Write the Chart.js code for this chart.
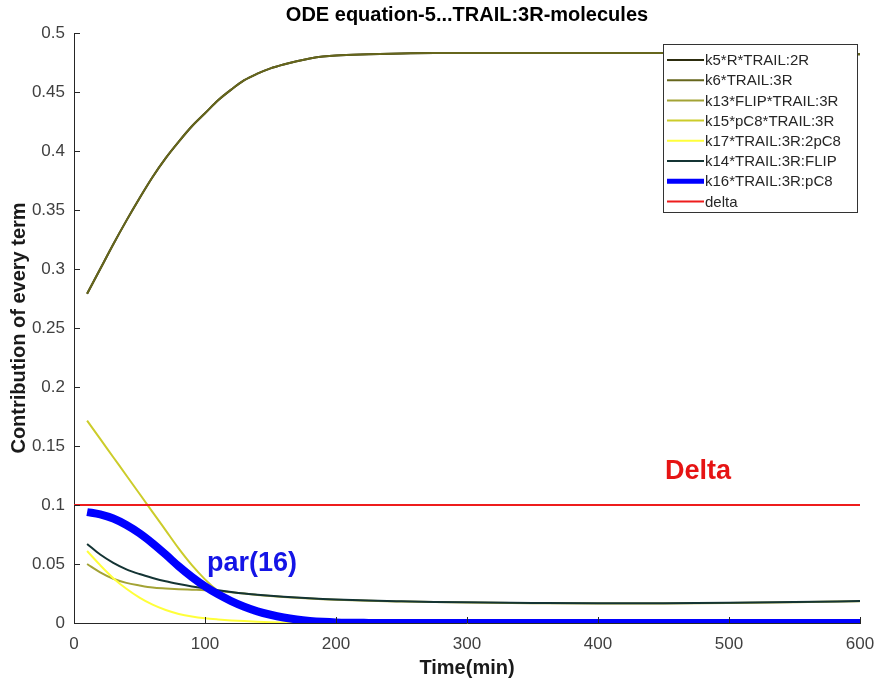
<!DOCTYPE html>
<html><head><meta charset="utf-8">
<script src="https://cdn.jsdelivr.net/npm/chart.js@4"></script>
<style>html,body{margin:0;padding:0;background:#fff}canvas{display:block}</style>
</head><body>
<canvas id="c" width="878" height="684"></canvas>
<script>
// ---- data ----
const timeMin = [10,20,30,40,50,60,70,80,90,100,110,120,130,140,150,160,170,180,190,200,225,250,275,300,350,400,450,500,550,600];
const k5Values = [0.279,0.300,0.321,0.341,0.360,0.378,0.394,0.408,0.421,0.432,0.443,0.452,0.460,0.4655,0.470,0.4733,0.476,0.4783,0.480,0.481,0.482,0.4827,0.483,0.483,0.483,0.483,0.483,0.483,0.483,0.482];
const k6Values = [0.279,0.300,0.321,0.341,0.360,0.378,0.394,0.408,0.421,0.432,0.443,0.452,0.460,0.4655,0.470,0.4733,0.476,0.4783,0.480,0.481,0.482,0.4827,0.483,0.483,0.483,0.483,0.483,0.483,0.483,0.482];
const k13Values = [0.050,0.043,0.0375,0.034,0.0318,0.030,0.0292,0.0286,0.0282,0.0278,0.0271,0.0261,0.0249,0.0238,0.0229,0.0221,0.0214,0.0208,0.0202,0.0197,0.0188,0.0182,0.0177,0.0173,0.0168,0.0165,0.0166,0.017,0.0176,0.0184];
const k15Values = [0.1715,0.156,0.1405,0.125,0.1095,0.094,0.0785,0.063,0.049,0.037,0.027,0.019,0.0125,0.008,0.005,0.003,0.0017,0.0009,0.0004,0.0001,0,0,0,0,0,0,0,0,0,0];
const k17Values = [0.061,0.049,0.038,0.029,0.0215,0.0155,0.011,0.0077,0.0055,0.004,0.003,0.0022,0.0016,0.0011,0.0007,0.0004,0.0002,0.0001,0,0,0,0,0,0,0,0,0,0,0,0];
const k14Values = [0.067,0.058,0.051,0.0455,0.0415,0.0382,0.0353,0.033,0.031,0.0294,0.0278,0.0263,0.025,0.024,0.0231,0.0223,0.0216,0.021,0.0204,0.0199,0.019,0.0184,0.0179,0.0175,0.017,0.0167,0.0168,0.0172,0.0178,0.0186];
const k16Values = [0.094,0.092,0.0885,0.083,0.076,0.0675,0.058,0.048,0.039,0.031,0.0243,0.0186,0.0138,0.0099,0.007,0.0047,0.003,0.0018,0.001,0.0005,0.0001,0,0,0,0,0,0,0,0,0];
const deltaTime = [0,600];
const deltaValues = [0.1,0.1];
const seriesLabels = ['k5*R*TRAIL:2R','k6*TRAIL:3R','k13*FLIP*TRAIL:3R','k15*pC8*TRAIL:3R','k17*TRAIL:3R:2pC8','k14*TRAIL:3R:FLIP','k16*TRAIL:3R:pC8','delta'];
const xTickLabels = ['0','100','200','300','400','500','600'];
const yTickLabels = ['0','0.05','0.1','0.15','0.2','0.25','0.3','0.35','0.4','0.45','0.5'];

const toXY = (xs, ys) => xs.map((x, i) => ({x: x, y: ys[i]}));
const colors = ['#2c2c0e','#66661c','#a3a335','#cccc2a','#ffff3a','#143434','#0000ff','#ee1c1c'];
const widths = [2,2,2,2,2,2,8,2];
const legendWidths = [2,2,2,2,2,2,5,2];
const seriesValues = [k5Values,k6Values,k13Values,k15Values,k17Values,k14Values,k16Values];

const datasets = seriesValues.map((v, i) => ({
  label: seriesLabels[i], data: toXY(timeMin, v),
  borderColor: colors[i], backgroundColor: colors[i], borderWidth: widths[i],
  pointRadius: 0, cubicInterpolationMode: 'monotone', fill: false, order: 20 - i
}));
datasets.push({label: seriesLabels[7], data: toXY(deltaTime, deltaValues), borderColor: colors[7],
  backgroundColor: colors[7], borderWidth: 2, pointRadius: 0, fill: false, order: 1});

const FONT = '"Liberation Sans", Arial, sans-serif';

const decor = {
  id: 'decor',
  afterDatasetsDraw(chart) {
    const ctx = chart.ctx, a = chart.chartArea, xs = chart.scales.x, ys = chart.scales.y;
    ctx.save();
    ctx.strokeStyle = '#262626'; ctx.lineWidth = 1;
    ctx.beginPath();
    xs.ticks.forEach(t => { const p = Math.round(xs.getPixelForValue(t.value)) + 0.5; ctx.moveTo(p, a.bottom); ctx.lineTo(p, a.bottom - 6); });
    ys.ticks.forEach(t => { const p = Math.round(ys.getPixelForValue(t.value)) + 0.5; ctx.moveTo(a.left, p); ctx.lineTo(a.left + 6, p); });
    ctx.stroke();
    ctx.restore();
  },
  afterDraw(chart) {
    const ctx = chart.ctx;
    ctx.save();
    // title
    ctx.fillStyle = '#000'; ctx.textAlign = 'center'; ctx.textBaseline = 'middle';
    ctx.font = 'bold 20px ' + FONT;
    ctx.fillText('ODE equation-5...TRAIL:3R-molecules', 467, 15);
    // axis titles
    ctx.fillStyle = '#1a1a1a';
    ctx.font = 'bold 20px ' + FONT;
    ctx.fillText('Time(min)', 467, 668);
    ctx.save(); ctx.translate(19, 328); ctx.rotate(-Math.PI / 2);
    ctx.fillText('Contribution of every term', 0, 0); ctx.restore();
    // annotations
    ctx.textAlign = 'left';
    ctx.font = 'bold 27px ' + FONT;
    ctx.fillStyle = '#e61414'; ctx.fillText('Delta', 665, 472);
    ctx.fillStyle = '#1414e6'; ctx.fillText('par(16)', 207, 564);
    // legend
    const lx = 663.5, ly = 44.5, lw = 194, lh = 168;
    ctx.fillStyle = '#fff'; ctx.fillRect(lx, ly, lw, lh);
    ctx.strokeStyle = '#333'; ctx.lineWidth = 1; ctx.strokeRect(lx, ly, lw, lh);
    ctx.font = '15px ' + FONT; ctx.textBaseline = 'middle';
    seriesLabels.forEach((lab, i) => {
      const y = 60 + i * 20.2;
      ctx.strokeStyle = colors[i]; ctx.lineWidth = legendWidths[i];
      ctx.beginPath(); ctx.moveTo(667, y); ctx.lineTo(704, y); ctx.stroke();
      ctx.fillStyle = '#262626'; ctx.fillText(lab, 705, y + 1);
    });
    ctx.restore();
  }
};

new Chart(document.getElementById('c'), {
  type: 'line',
  data: { datasets },
  options: {
    responsive: false, animation: false, devicePixelRatio: 1,
    layout: { padding: { top: 33, right: 18, left: 0, bottom: 0 } },
    plugins: { legend: { display: false }, tooltip: { enabled: false }, title: { display: false } },
    scales: {
      x: {
        type: 'linear', min: 0, max: 600,
        afterBuildTicks: s => { s.ticks = xTickLabels.map(v => ({ value: +v })); },
        afterFit: s => { s.height = 61; s.paddingLeft = 0; s.paddingRight = 0; },
        grid: { display: false, drawTicks: false },
        border: { display: true, color: '#262626', width: 1 },
        ticks: { padding: 11, color: '#404040', font: { family: FONT, size: 17 }, maxRotation: 0,
          callback: (v, i) => xTickLabels[i] }
      },
      y: {
        type: 'linear', min: 0, max: 0.5,
        afterBuildTicks: s => { s.ticks = yTickLabels.map(v => ({ value: +v })); },
        afterFit: s => { s.width = 74; s.paddingTop = 0; s.paddingBottom = 0; },
        grid: { display: false, drawTicks: false },
        border: { display: true, color: '#262626', width: 1 },
        ticks: { padding: 9, color: '#404040', font: { family: FONT, size: 17 },
          callback: (v, i) => yTickLabels[i] }
      }
    }
  },
  plugins: [decor]
});
</script>
</body></html>
